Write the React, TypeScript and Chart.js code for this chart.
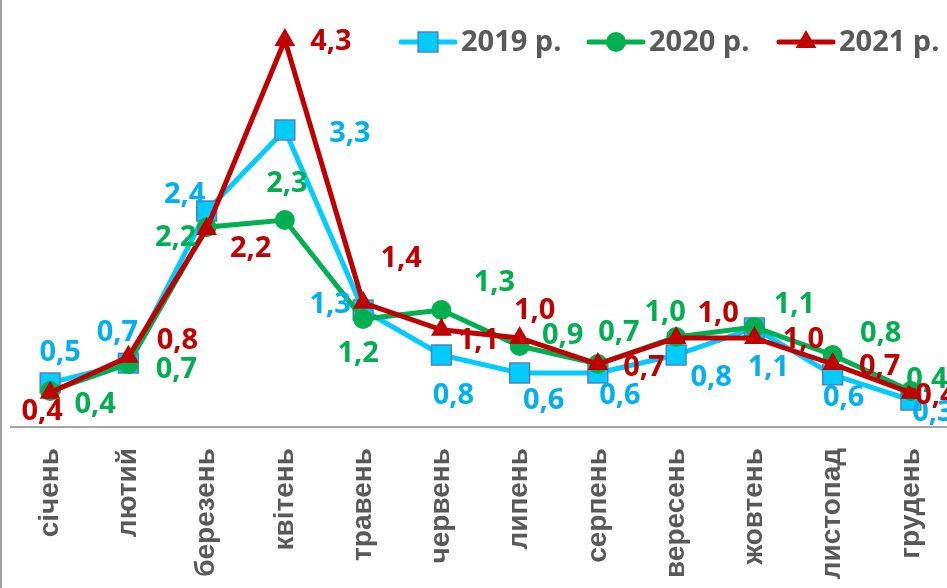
import React, { useEffect, useRef } from 'react';
import { Chart, registerables } from 'chart.js';

Chart.register(...registerables);

// ---- data ----
const months = ['січень', 'лютий', 'березень', 'квітень', 'травень', 'червень', 'липень', 'серпень', 'вересень', 'жовтень', 'листопад', 'грудень'];
const seriesNames = ['2019 р.', '2020 р.', '2021 р.'];
const values2019 = [0.49, 0.71, 2.4, 3.3, 1.3, 0.8, 0.6, 0.6, 0.8, 1.1, 0.58, 0.3];
const values2020 = [0.4, 0.7, 2.22, 2.3, 1.2, 1.3, 0.9, 0.7, 1.0, 1.11, 0.8, 0.4];
const values2021 = [0.38, 0.78, 2.2, 4.3, 1.38, 1.08, 0.99, 0.7, 0.99, 0.99, 0.7, 0.38];

// ---- styles ----
const lineColors = ['#00CCFF', '#00B050', '#C00000'];
const labelColors = ['#00B0F0', '#00B050', '#C00000'];
const pointStyles = ['rect', 'circle', 'triangle'];
const pointRadii = [14, 10, 12];
const pointBorders = ['#4F81BD', '#00B050', '#C00000'];

// data-label offsets (label centre relative to point), px
const labelOffsets = [
  [[10, -31], [-11, -31], [-22, -17], [65, 3], [-33, -6], [12, 40], [24, 27], [22, 22], [35, 22], [14, 39], [11, 22], [22, 12]],
  [[45, 13], [48, 5], [-31, 10], [2, -37], [-5, 34], [53, -28], [43, -11], [21, -32], [-11, -25], [40, -23], [48, -22], [16, -12]],
  [[-8, 18], [49, -17], [44, 19], [46, 1], [38, -45], [37, 10], [15, -28], [46, 3], [42, -25], [49, 1], [47, 2], [25, 2]],
];

const legendStarts = [401, 589, 779];
const legendY = 42;

const fmt = (v: number) => v.toFixed(1).replace('.', ',');

function drawMarker(ctx: CanvasRenderingContext2D, style: string, x: number, y: number, r: number, fill: string, stroke: string) {
  ctx.save();
  ctx.fillStyle = fill;
  ctx.strokeStyle = stroke;
  ctx.lineWidth = 1.5;
  ctx.beginPath();
  if (style === 'rect') {
    const s = Math.SQRT1_2 * r;
    ctx.rect(x - s, y - s, 2 * s, 2 * s);
    ctx.fill();
    ctx.stroke();
  } else if (style === 'circle') {
    ctx.arc(x, y, r, 0, Math.PI * 2);
    ctx.fill();
  } else {
    const a = (2 * Math.PI) / 3;
    ctx.moveTo(x, y - r);
    ctx.lineTo(x + Math.sin(a) * r, y - Math.cos(a) * r);
    ctx.lineTo(x + Math.sin(2 * a) * r, y - Math.cos(2 * a) * r);
    ctx.closePath();
    ctx.fill();
  }
  ctx.restore();
}

const framePlugin = {
  id: 'frame',
  beforeDraw(chart: any) {
    const { ctx, width, height } = chart;
    ctx.save();
    ctx.fillStyle = '#FFFFFF';
    ctx.fillRect(0, 0, width, height);
    ctx.restore();
  },
  afterDraw(chart: any) {
    const { ctx, height } = chart;
    ctx.save();
    ctx.fillStyle = '#A0A0A0';
    ctx.fillRect(0, 0, 2, height);
    ctx.restore();
  },
};

const valueLabelPlugin = {
  id: 'valueLabels',
  afterDatasetsDraw(chart: any) {
    const ctx = chart.ctx as CanvasRenderingContext2D;
    ctx.save();
    ctx.font = "bold 29px 'Open Sans', 'DejaVu Sans', sans-serif";
    ctx.textAlign = 'center';
    ctx.textBaseline = 'middle';
    chart.data.datasets.forEach((ds: any, di: number) => {
      const meta = chart.getDatasetMeta(di);
      ctx.fillStyle = labelColors[di];
      meta.data.forEach((pt: any, i: number) => {
        const [dx, dy] = labelOffsets[di][i];
        ctx.fillText(fmt(ds.data[i]), pt.x + dx, pt.y + dy + 1);
      });
    });
    ctx.restore();
  },
};

const legendPlugin = {
  id: 'customLegend',
  afterDraw(chart: any) {
    const ctx = chart.ctx as CanvasRenderingContext2D;
    ctx.save();
    seriesNames.forEach((name, i) => {
      const x0 = legendStarts[i];
      ctx.strokeStyle = lineColors[i];
      ctx.lineWidth = 5;
      ctx.lineCap = 'round';
      ctx.beginPath();
      ctx.moveTo(x0, legendY);
      ctx.lineTo(x0 + 54, legendY);
      ctx.stroke();
      drawMarker(ctx, pointStyles[i], x0 + 27, legendY, pointRadii[i], lineColors[i], pointBorders[i]);
      ctx.fillStyle = '#595959';
      ctx.font = "bold 29px 'Open Sans', 'DejaVu Sans', sans-serif";
      ctx.textAlign = 'left';
      ctx.textBaseline = 'middle';
      ctx.fillText(name, x0 + 60, legendY + 1);
    });
    ctx.restore();
  },
};

export default function App() {
  const ref = useRef<HTMLCanvasElement>(null);

  useEffect(() => {
    const canvas = ref.current;
    if (!canvas) return;
    const allValues = [values2019, values2020, values2021];
    const chart = new Chart(canvas, {
      type: 'line',
      data: {
        labels: months,
        datasets: allValues.map((vals, i) => ({
          label: seriesNames[i],
          data: vals,
          borderColor: lineColors[i],
          backgroundColor: lineColors[i],
          borderWidth: 5,
          tension: 0,
          pointStyle: pointStyles[i] as any,
          pointRadius: pointRadii[i],
          pointBackgroundColor: lineColors[i],
          pointBorderColor: pointBorders[i],
          pointBorderWidth: i === 0 ? 1.5 : 0,
          order: 2 - i,
          clip: false as any,
        })),
      },
      options: {
        responsive: false,
        animation: false,
        devicePixelRatio: 1,
        layout: { autoPadding: false, padding: { left: 11, right: 0, top: 4, bottom: 0 } },
        plugins: {
          legend: { display: false },
          tooltip: { enabled: false },
        },
        scales: {
          x: {
            type: 'category',
            offset: true,
            grid: { display: false },
            border: { display: true, color: '#A6A6A6', width: 2 },
            ticks: {
              autoSkip: false,
              minRotation: 90,
              maxRotation: 90,
              padding: 13,
              color: '#595959',
              font: { family: "'Liberation Sans', Arial, sans-serif", size: 28, weight: 'bold' },
            },
            afterFit: (s: any) => {
              s.height = 161;
              s.paddingLeft = 0;
              s.paddingRight = 0;
              s.paddingTop = 0;
              s.paddingBottom = 0;
            },
          },
          y: {
            display: false,
            min: 0,
            max: 4.7,
            afterFit: (s: any) => {
              s.width = 0;
              s.paddingLeft = 0;
              s.paddingRight = 0;
              s.paddingTop = 0;
              s.paddingBottom = 0;
            },
          },
        },
      },
      plugins: [framePlugin, valueLabelPlugin, legendPlugin],
    });
    return () => chart.destroy();
  }, []);

  return (
    <div style={{ position: 'absolute', left: 0, top: 0, width: 947, height: 588, overflow: 'hidden', background: '#fff' }}>
      <canvas ref={ref} width={950} height={588} style={{ display: 'block', width: 950, height: 588 }} />
    </div>
  );
}
